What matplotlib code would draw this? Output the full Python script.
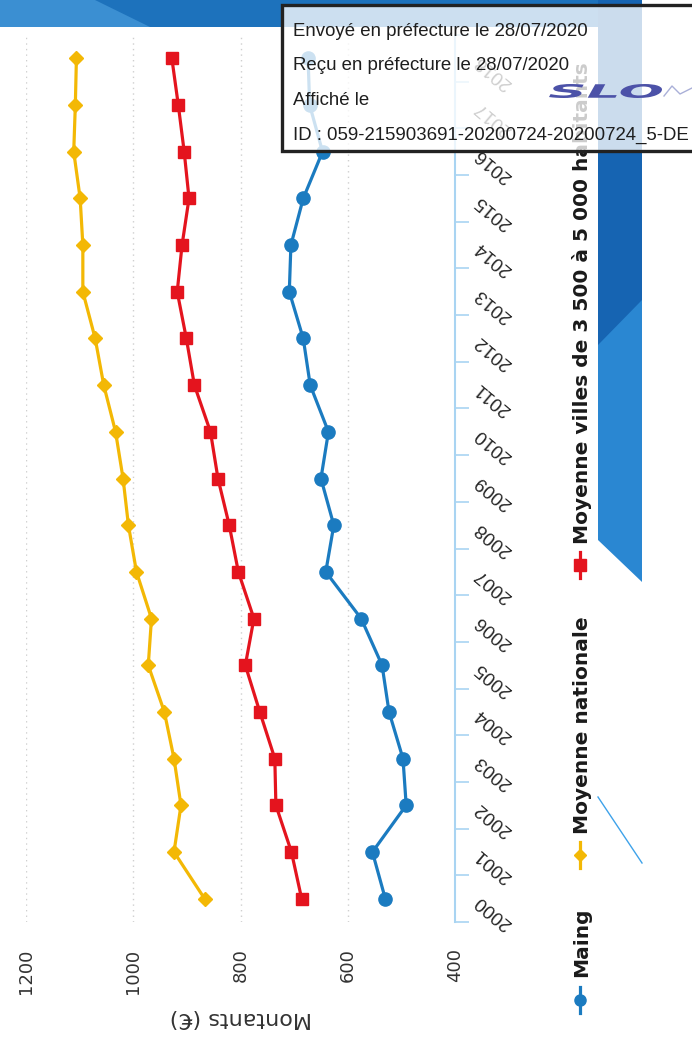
import matplotlib
matplotlib.use("Agg")
import matplotlib.pyplot as plt
from matplotlib.patches import Rectangle, Polygon, PathPatch
from matplotlib.lines import Line2D
from matplotlib.textpath import TextPath
from matplotlib.font_manager import FontProperties
from matplotlib.transforms import Affine2D

# ------------------------
# data (euros per inhabitant)
# ------------------------
years = list(range(2000, 2019))
maing = [530, 554, 491, 497, 523, 536, 575, 641, 626, 650,
         636, 670, 683, 709, 706, 683, 647, 671, 674]
moy_nationale = [867, 924, 911, 924, 942, 972, 966, 994, 1009, 1019,
                 1033, 1055, 1071, 1094, 1094, 1099, 1111, 1108, 1106]
moy_villes = [686, 705, 734, 736, 764, 791, 775, 804, 821, 842,
              856, 886, 901, 918, 909, 896, 905, 916, 928]
value_ticks = [400, 600, 800, 1000, 1200]
series_names = ["Maing", "Moyenne nationale",
                "Moyenne villes de 3 500 à 5 000 habitants"]
y_label = "Montants (€)"
stamp_lines = ["Envoyé en préfecture le 28/07/2020",
               "Reçu en préfecture le 28/07/2020",
               "Affiché le",
               "ID : 059-215903691-20200724-20200724_5-DE"]

BLUE = "#1b7bc0"
YELLOW = "#f3b805"
RED = "#e4141e"
AXIS_BLUE = "#a9d4f2"

W, H = 692, 1040


def fx(px):
    return px / W


def fy(py):
    return 1 - py / H


fig = plt.figure(figsize=(W / 100, H / 100), dpi=100)
fig.patch.set_facecolor("white")

# page decoration (blue bands of the scanned page)
deco = [
    ([(0, 0), (642, 0), (642, 27), (0, 27)], "#1d72bc"),
    ([(0, 0), (95, 0), (150, 27), (0, 27)], "#3b8fd2"),
    ([(598, 0), (642, 0), (642, 582), (598, 540)], "#2a87d2"),
    ([(598, 0), (642, 0), (642, 300), (598, 345)], "#1664b2"),
]
for pts, col in deco:
    fig.add_artist(Polygon([(fx(a), fy(b)) for a, b in pts], closed=True,
                           transform=fig.transFigure, facecolor=col,
                           edgecolor="none", zorder=1))
fig.add_artist(Line2D([fx(598), fx(642)], [fy(797), fy(863)],
                      transform=fig.transFigure, color="#3ea2ea", lw=1.0))

# main chart, drawn rotated like the scan: years upward, amounts leftward
ax = fig.add_axes([fx(26), fy(922), (455 - 26) / W, (922 - 35) / H])
ax.set_facecolor("none")
ax.plot(moy_nationale, years, color=YELLOW, lw=2.3, marker="D", ms=7, zorder=3)
ax.plot(moy_villes, years, color=RED, lw=2.3, marker="s", ms=9, zorder=3)
ax.plot(maing, years, color=BLUE, lw=2.3, marker="o", ms=9.5, zorder=3)

ax.set_xlim(max(value_ticks), min(value_ticks))
ax.set_ylim(years[0] - 0.5, years[-1] + 0.5)
ax.set_xticks(value_ticks)
ax.grid(axis="x", color="#cfcfcf", lw=1.0, ls=(0, (1, 3)))
ax.set_axisbelow(True)

for side in ["left", "top", "bottom"]:
    ax.spines[side].set_visible(False)
ax.spines["right"].set_color(AXIS_BLUE)
ax.spines["right"].set_linewidth(1.5)

ax.yaxis.tick_right()
ax.set_yticks(years)
ax.set_yticklabels([str(y) for y in years])
ax.set_yticks([y - 0.5 for y in years] + [years[-1] + 0.5], minor=True)
ax.tick_params(axis="y", which="major", length=0, pad=16, labelsize=13.5,
               labelcolor="#262626")
ax.tick_params(axis="y", which="minor", length=10, width=1.2,
               color=AXIS_BLUE, direction="out")
for lab in ax.get_yticklabels():
    lab.set_rotation(140)
    lab.set_rotation_mode("anchor")
    lab.set_ha("right")
    lab.set_va("center")
    lab.set_family("Liberation Sans")

ax.tick_params(axis="x", length=0, pad=19, labelsize=13, labelrotation=90,
               labelcolor="#333333")
ax.set_xlabel(y_label, rotation=180, fontsize=16, labelpad=10, color="#333333")

# legend, rotated as in the scan
leg_pos = [(1000, 977), (855, 834), (565, 544)]
for name, col, mk, ms, (my, ty) in zip(series_names, [BLUE, YELLOW, RED],
                                        ["o", "D", "s"], [8, 6.5, 8], leg_pos):
    fig.add_artist(Line2D([fx(580), fx(580)], [fy(my - 13), fy(my + 13)],
                          transform=fig.transFigure, color=col, lw=2.3))
    fig.add_artist(Line2D([fx(580)], [fy(my)], transform=fig.transFigure,
                          color=col, marker=mk, ms=ms, lw=0))
    fig.text(fx(582), fy(ty), name, rotation=90, rotation_mode="anchor",
             ha="left", va="center", fontsize=14.5, fontweight="bold",
             color="#1a1a1a")

# prefecture stamp on top of the scan
fig.add_artist(Rectangle((fx(282), fy(151)), (720 - 282) / W, (151 - 5) / H,
                         transform=fig.transFigure, facecolor=(1, 1, 1, 0.78),
                         edgecolor="#222222", lw=2.4, zorder=20))
for i, line in enumerate(stamp_lines):
    fig.text(fx(293), fy(31 + 34.7 * i), line, ha="left", va="center",
             fontsize=13.4, family="Liberation Sans", color="#1e1e1e",
             zorder=21)

# SLO logo (stretched italic lettering)
tp = TextPath((0, 0), "SLO", size=1,
              prop=FontProperties(family="DejaVu Sans", weight="bold",
                                  style="italic"))
bb = tp.get_extents()
sx = (662 - 549) / W / bb.width
sy = (98 - 84) / H / bb.height
tr = Affine2D().translate(-bb.x0, -bb.y0).scale(sx, sy).translate(fx(549), fy(98))
fig.add_artist(PathPatch(tp, transform=tr + fig.transFigure,
                         facecolor="#4c52a8", edgecolor="none", zorder=22))
fig.add_artist(Line2D([fx(664), fx(672), fx(680), fx(692)],
                      [fy(96), fy(86), fy(94), fy(88)],
                      transform=fig.transFigure, color="#aab0d8", lw=1.0,
                      zorder=22))

fig.savefig("out.png", dpi=100)
